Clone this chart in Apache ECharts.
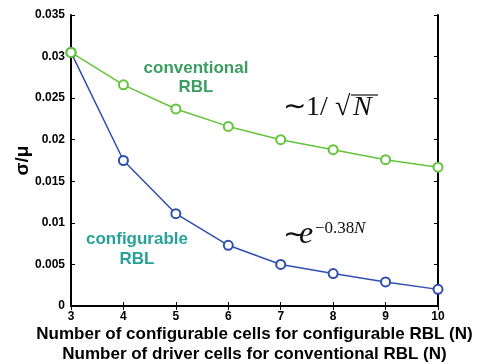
<!DOCTYPE html>
<html>
<head>
<meta charset="utf-8">
<script src="https://cdn.jsdelivr.net/npm/echarts@6/dist/echarts.min.js"></script>
<style>
  html, body { margin: 0; padding: 0; background: #fff; }
  #chart { width: 477px; height: 364px; }
</style>
</head>
<body>
<div id="chart"></div>
<script>
// N values (x axis)
const cellCounts = [3, 4, 5, 6, 7, 8, 9, 10]
// sigma/mu for configurable RBL (blue)
const configurableRBL = [0.0305, 0.0175, 0.0111, 0.0073, 0.0050, 0.0039, 0.0029, 0.0020]
// sigma/mu for conventional RBL (green)
const conventionalRBL = [0.0305, 0.0266, 0.0237, 0.0216, 0.0200, 0.0188, 0.0176, 0.0167]
const xTicks = [3, 4, 5, 6, 7, 8, 9, 10]
const yTickLabels = ['0', '0.005', '0.01', '0.015', '0.02', '0.025', '0.03', '0.035']

const blue = '#2f4fae'
const green = '#64c43a'
const serif = '"Liberation Serif", "Times New Roman", serif'

const chart = echarts.init(document.getElementById('chart'))

const axisLine = { show: true, lineStyle: { color: '#000', width: 2 } }
const axisTick = { show: true, inside: true, length: 4, lineStyle: { color: '#000', width: 1 } }
const tickFont = { color: '#000', fontWeight: 'bold', fontSize: 12, fontFamily: 'Liberation Sans, Arial' }

chart.setOption({
  animation: false,
  backgroundColor: '#fff',
  grid: { left: 71, right: 39, top: 15, bottom: 58, outerBoundsMode: 'none' },
  xAxis: [
    {
      type: 'value', min: 3, max: 10, interval: 1, position: 'bottom',
      axisLine, axisTick, splitLine: { show: false },
      axisLabel: { ...tickFont, margin: 5, formatter: (v) => (xTicks.includes(v) ? String(v) : '') },
      name: 'Number of configurable cells for configurable RBL (N)\nNumber of driver cells for conventional RBL (N)',
      nameLocation: 'middle',
      nameGap: 18,
      nameMoveOverlap: false,
      nameTextStyle: {
        color: '#000', fontWeight: 'bold', fontSize: 17, lineHeight: 20,
        fontFamily: 'Liberation Sans, Arial', verticalAlign: 'top'
      }
    },
    {
      type: 'value', min: 3, max: 10, interval: 1, position: 'top',
      axisLine, axisTick, axisLabel: { show: false }, splitLine: { show: false }
    }
  ],
  yAxis: [
    {
      type: 'value', min: 0, max: 0.035, interval: 0.005, position: 'left',
      axisLine, axisTick, splitLine: { show: false },
      axisLabel: {
        ...tickFont, margin: 6,
        formatter: (v) => yTickLabels[Math.round(v / 0.005)]
      },
      name: 'σ/μ',
      nameLocation: 'middle',
      nameRotate: 90,
      nameGap: 39,
      nameMoveOverlap: false,
      nameTextStyle: { color: '#000', fontWeight: 'bold', fontSize: 19, fontFamily: 'Liberation Sans, Arial' }
    },
    {
      type: 'value', min: 0, max: 0.035, interval: 0.005, position: 'right',
      axisLine, axisTick, axisLabel: { show: false }, splitLine: { show: false }
    }
  ],
  series: [
    {
      name: 'configurable RBL',
      type: 'line',
      data: cellCounts.map((n, i) => [n, configurableRBL[i]]),
      symbol: 'emptyCircle',
      symbolSize: 9,
      lineStyle: { color: blue, width: 1.5 },
      itemStyle: { color: blue, borderColor: blue, borderWidth: 1.5 }
    },
    {
      name: 'conventional RBL',
      type: 'line',
      data: cellCounts.map((n, i) => [n, conventionalRBL[i]]),
      symbol: 'emptyCircle',
      symbolSize: 9,
      lineStyle: { color: green, width: 1.5 },
      itemStyle: { color: green, borderColor: green, borderWidth: 1.5 }
    }
  ],
  graphic: [
    // series labels
    {
      type: 'text', x: 196, y: 78,
      style: {
        text: 'conventional\nRBL', fill: '#3a9e60', font: 'bold 17px "Liberation Sans", Arial',
        align: 'center', verticalAlign: 'middle', lineHeight: 19
      }
    },
    {
      type: 'text', x: 137, y: 249,
      style: {
        text: 'configurable\nRBL', fill: '#27a19a', font: 'bold 17px "Liberation Sans", Arial',
        align: 'center', verticalAlign: 'middle', lineHeight: 20
      }
    },
    // ~ 1/sqrt(N)
    {
      type: 'text', x: 283, y: 108,
      style: { text: '∼1/', fill: '#111', font: '28px ' + serif, align: 'left', verticalAlign: 'middle' }
    },
    {
      type: 'text', x: 335, y: 108,
      style: { text: '√', fill: '#111', font: '28px ' + serif, align: 'left', verticalAlign: 'middle' }
    },
    {
      type: 'text', x: 353, y: 108,
      style: { text: 'N', fill: '#111', font: 'italic 28px ' + serif, align: 'left', verticalAlign: 'middle' }
    },
    {
      type: 'line', shape: { x1: 351, y1: 95, x2: 378, y2: 95 },
      style: { stroke: '#111', lineWidth: 1.2 }
    },
    // ~ e^{-0.38N}
    {
      type: 'text', x: 283, y: 236,
      style: { text: '∼', fill: '#111', font: '28px ' + serif, align: 'left', verticalAlign: 'middle' }
    },
    {
      type: 'text', x: 299, y: 235,
      style: { text: 'e', fill: '#111', font: 'italic 32px ' + serif, align: 'left', verticalAlign: 'middle' }
    },
    {
      type: 'text', x: 315, y: 229,
      style: { text: '−0.38', fill: '#111', font: '17px ' + serif, align: 'left', verticalAlign: 'middle' }
    },
    {
      type: 'text', x: 354, y: 229,
      style: { text: 'N', fill: '#111', font: 'italic 17px ' + serif, align: 'left', verticalAlign: 'middle' }
    }
  ]
})
</script>
</body>
</html>
